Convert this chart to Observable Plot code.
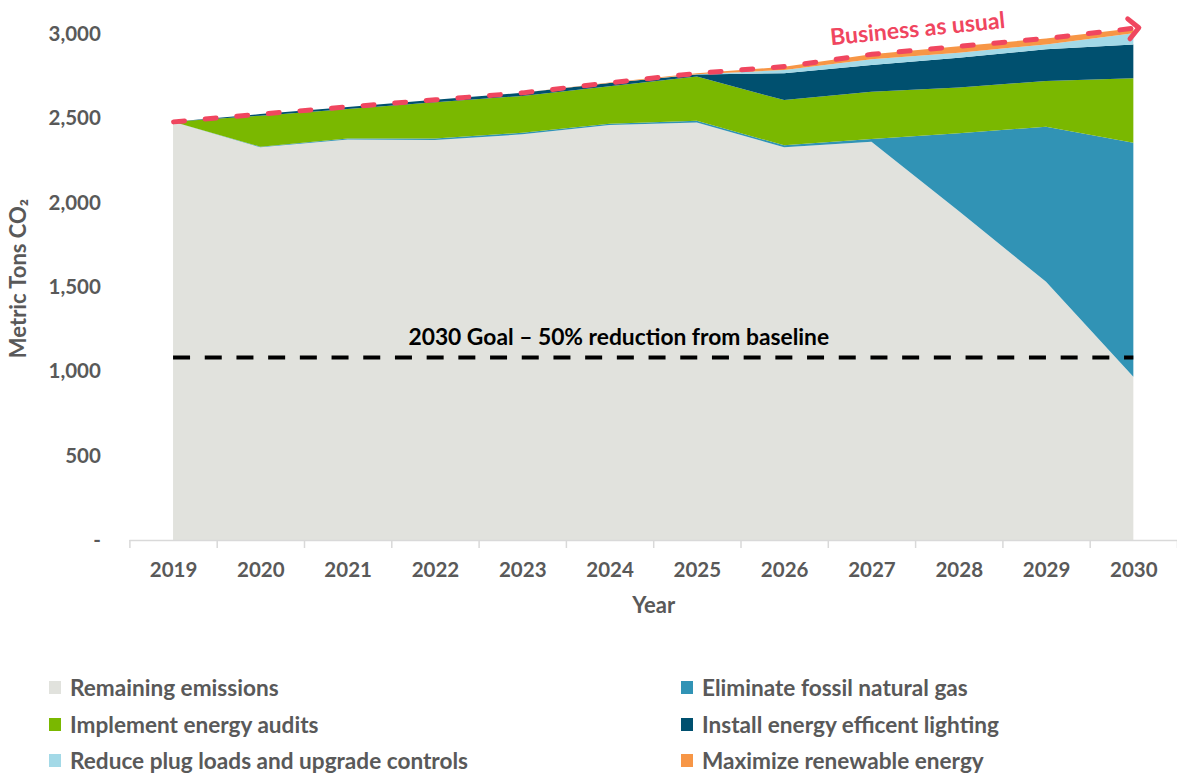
<!DOCTYPE html>
<html>
<head>
<meta charset="utf-8">
<script src="https://cdn.jsdelivr.net/npm/d3@7"></script>
<script src="https://cdn.jsdelivr.net/npm/@observablehq/plot@0.6"></script>
<style>
  html, body { margin: 0; padding: 0; background: #fff; }
  body { width: 1177px; height: 776px; overflow: hidden; font-family: Lato, "Open Sans", sans-serif; }
  #legend { position: relative; height: 136px; }
  .item { position: absolute; display: flex; align-items: center; font-weight: 700; font-size: 22.6px; color: #595959; white-space: nowrap; }
  .sw { width: 12px; height: 13px; margin-right: 9px; }
</style>
</head>
<body>
<div id="chart"></div>
<div id="legend"></div>
<script>
const years = [2019, 2020, 2021, 2022, 2023, 2024, 2025, 2026, 2027, 2028, 2029, 2030];
const remaining  = [2480, 2328, 2375, 2372, 2405, 2460, 2476, 2328, 2361, 1950, 1531, 968];
const fossilGas  = [0, 4, 5, 8, 10, 8, 10, 12, 16, 462, 919, 1387];
const audits     = [0, 184, 175, 215, 218, 222, 262, 268, 281, 271, 271, 382];
const lighting   = [0, 9, 12, 15, 18, 20, 12, 159, 158, 176, 189, 201];
const plugLoads  = [0, 0, 0, 0, 0, 0, 2, 19, 35, 30, 28, 66];
const renewable  = [0, 0, 0, 0, 0, 2, 5, 20, 29, 38, 36, 30];
const businessAsUsual = [2482, 2528, 2571, 2613, 2654, 2714, 2770, 2810, 2883, 2930, 2977, 3037];
const goal = 1085;

const seriesNames = [
  "Remaining emissions",
  "Eliminate fossil natural gas",
  "Implement energy audits",
  "Install energy efficent lighting",
  "Reduce plug loads and upgrade controls",
  "Maximize renewable energy"
];
const seriesValues = [remaining, fossilGas, audits, lighting, plugLoads, renewable];
const seriesColors = ["#e1e2dd", "#3193b5", "#7ab800", "#00506f", "#a3d9e7", "#f79646"];
const yTicks = [0, 500, 1000, 1500, 2000, 2500, 3000];
const legendOrder = [
  "Remaining emissions", "Eliminate fossil natural gas",
  "Implement energy audits", "Install energy efficent lighting",
  "Reduce plug loads and upgrade controls", "Maximize renewable energy"
];

const table = [];
seriesNames.forEach((s, k) => years.forEach((yr, i) => table.push({year: yr, series: s, value: seriesValues[k][i]})));
const bauData = years.map((yr, i) => ({year: yr, value: businessAsUsual[i]}));
const boundaries = [...years.map(y => y - 0.5), years[years.length - 1] + 0.5];

const textColor = "#595959";
const red = "#f0465f";

const plot = Plot.plot({
  width: 1177,
  height: 640,
  marginLeft: 129.4,
  marginRight: 0,
  marginTop: 34,
  marginBottom: 100,
  style: {fontFamily: "Lato, 'Open Sans', sans-serif", fontSize: "20.5px", fontWeight: 700, color: textColor, background: "#fff", overflow: "visible"},
  x: {type: "linear", domain: [years[0] - 0.5, years[years.length - 1] + 0.5], label: null},
  y: {domain: [0, 3000], label: null},
  color: {domain: seriesNames, range: seriesColors},
  marks: [
    Plot.areaY(table, {x: "year", y: "value", fill: "series", order: seriesNames, curve: "linear"}),
    Plot.ruleY([0], {stroke: "#d9d9d9", strokeWidth: 1.5}),
    Plot.axisX({ticks: boundaries, tickSize: 8, stroke: "#d9d9d9", strokeWidth: 1.5, tickFormat: () => "", label: null}),
    Plot.axisX({ticks: years, tickSize: 0, tickPadding: 22, tickFormat: d => String(d), fill: textColor, label: null}),
    Plot.axisY({ticks: yTicks, tickSize: 0, tickPadding: 29, tickFormat: d => d === 0 ? "-" : d3.format(",")(d), fill: textColor, label: null}),
    Plot.ruleY([goal], {x1: years[0], x2: years[years.length - 1], stroke: "#000", strokeWidth: 4, strokeDasharray: "17,14.7"}),
    Plot.text(["2030 Goal \u2013 50% reduction from baseline"], {x: 2024.1, y: goal, dy: -20, fill: "#000", fontSize: 22.8, fontWeight: 700}),
    Plot.line(bauData, {x: "year", y: "value", stroke: red, strokeWidth: 5, strokeDasharray: "11,20.7", strokeLinecap: "round", markerEnd: "arrow"}),
    Plot.text(["Business as usual"], {x: 2027.5, y: 2960, dx: 2, dy: -12, rotate: -5.6, fill: red, fontSize: 23, fontWeight: 700}),
    Plot.text(["Year"], {frameAnchor: "bottom", dy: 72, fill: textColor, fontSize: 22, fontWeight: 700}),
    Plot.text(["Metric Tons CO\u2082"], {frameAnchor: "left", textAnchor: "middle", dx: -111, dy: -9, rotate: -90, fill: textColor, fontSize: 22, fontWeight: 700})
  ]
});
document.getElementById("chart").appendChild(plot);

const legend = document.getElementById("legend");
legendOrder.forEach((name, i) => {
  const col = i % 2, row = Math.floor(i / 2);
  const el = document.createElement("div");
  el.className = "item";
  el.style.left = (col === 0 ? 49 : 681) + "px";
  el.style.top = (49 - 15 + row * 36.5) + "px";
  const sw = document.createElement("div");
  sw.className = "sw";
  sw.style.background = seriesColors[seriesNames.indexOf(name)];
  const tx = document.createElement("span");
  tx.textContent = name;
  el.appendChild(sw); el.appendChild(tx);
  legend.appendChild(el);
});
</script>
</body>
</html>
